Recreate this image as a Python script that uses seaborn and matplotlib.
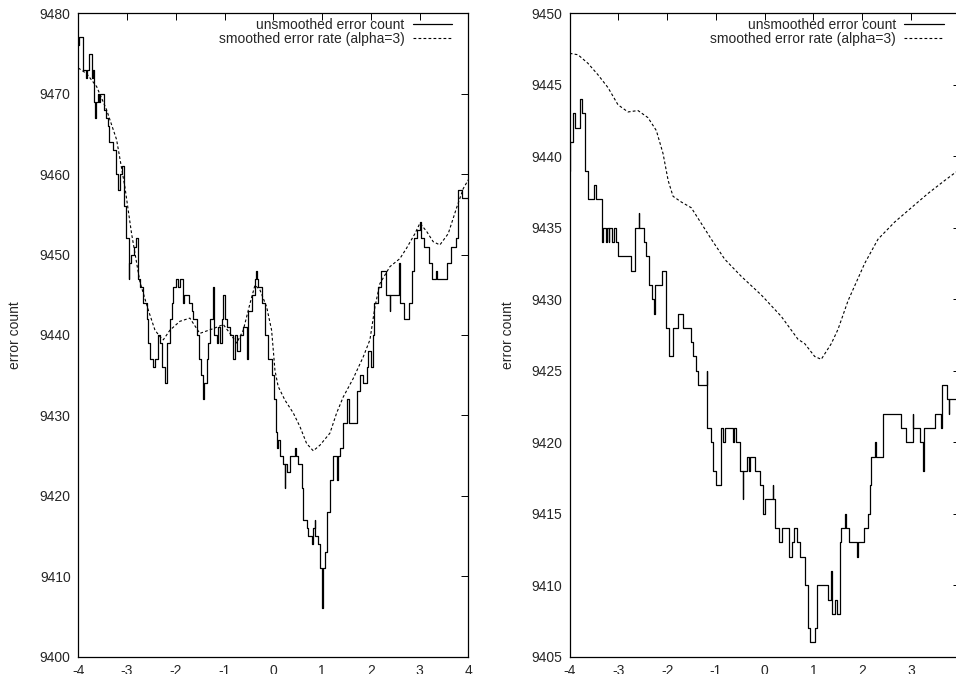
import matplotlib
matplotlib.use("Agg")
import matplotlib.pyplot as plt
import seaborn as sns

# --- Data ---
# left panel: unsmoothed count (step start x, level)
LEFT_STEP_X = [-4.00, -3.99, -3.91, -3.897, -3.85, -3.83, -3.79, -3.726, -3.70, -3.671,
               -3.655, -3.64, -3.60, -3.569, -3.55, -3.466, -3.44, -3.40, -3.363, -3.295,
               -3.227, -3.192, -3.145, -3.104, -3.056, -3.021, -2.967, -2.95, -2.919, -2.851,
               -2.816, -2.77, -2.73, -2.666, -2.598, -2.563, -2.529, -2.475, -2.427, -2.358,
               -2.324, -2.290, -2.222, -2.174, -2.119, -2.085, -2.051, -1.996, -1.948, -1.914,
               -1.859, -1.832, -1.722, -1.675, -1.640, -1.572, -1.517, -1.483, -1.449, -1.422,
               -1.367, -1.333, -1.299, -1.244, -1.216, -1.162, -1.128, -1.093, -1.059, -1.025,
               -0.991, -0.943, -0.888, -0.820, -0.786, -0.752, -0.683, -0.615, -0.546, -0.512,
               -0.444, -0.376, -0.35, -0.335, -0.307, -0.239, -0.170, -0.102, -0.034, 0.02,
               0.054, 0.08, 0.09, 0.136, 0.191, 0.239, 0.245, 0.287, 0.342, 0.444,
               0.47, 0.513, 0.581, 0.615, 0.684, 0.718, 0.786, 0.82, 0.854, 0.865,
               0.923, 0.957, 0.991, 1.0, 1.01, 1.025, 1.059, 1.094, 1.162, 1.23,
               1.315, 1.325, 1.367, 1.435, 1.504, 1.559, 1.709, 1.777, 1.846, 1.914,
               1.948, 1.996, 2.05, 2.066, 2.155, 2.203, 2.306, 2.388, 2.40, 2.58,
               2.593, 2.682, 2.785, 2.853, 2.886, 2.955, 3.003, 3.023, 3.092, 3.194,
               3.249, 3.331, 3.365, 3.57, 3.639, 3.742, 3.797, 3.879, 4.0]
LEFT_STEP_Y = [9476, 9477, 9475, 9473, 9472, 9473, 9475, 9472, 9473, 9469,
               9467, 9469, 9470, 9469, 9470, 9468, 9467, 9466, 9464, 9463,
               9460, 9458, 9460, 9461, 9456, 9452, 9447, 9449, 9450, 9451,
               9452, 9447, 9446, 9444, 9442, 9439, 9437, 9436, 9437, 9440,
               9439, 9436, 9434, 9439, 9442, 9444, 9446, 9447, 9446, 9447,
               9444, 9445, 9444, 9443, 9442, 9440, 9437, 9435, 9432, 9434,
               9437, 9439, 9442, 9446, 9440, 9439, 9441, 9439, 9442, 9445,
               9442, 9441, 9440, 9437, 9440, 9438, 9440, 9441, 9437, 9443,
               9445, 9447, 9448, 9447, 9446, 9444, 9440, 9437, 9435, 9432,
               9428, 9426, 9427, 9425, 9424, 9421, 9424, 9423, 9425, 9426,
               9425, 9424, 9421, 9417, 9416, 9415, 9414, 9416, 9417, 9415,
               9414, 9411, 9410, 9406, 9410, 9411, 9413, 9418, 9422, 9425,
               9422, 9425, 9426, 9429, 9432, 9429, 9433, 9435, 9434, 9436,
               9438, 9436, 9440, 9444, 9446, 9448, 9445, 9443, 9445, 9449,
               9444, 9442, 9444, 9448, 9452, 9453, 9454, 9452, 9451, 9449,
               9447, 9448, 9447, 9449, 9451, 9452, 9458, 9457, 9457]

LEFT_SMOOTH_X = [-4.0, -3.83, -3.625, -3.42, -3.215, -3.044, -2.907, -2.736, -2.564, -2.427,
                 -2.325, -2.257, -2.12, -1.917, -1.712, -1.507, -1.23, -1.025, -0.889, -0.82,
                 -0.752, -0.616, -0.479, -0.376, -0.274, -0.137, -0.035, 0.0, 0.034, 0.10,
                 0.239, 0.41, 0.547, 0.684, 0.82, 0.957, 1.162, 1.299, 1.435, 1.64,
                 1.846, 1.982, 2.085, 2.187, 2.392, 2.597, 2.734, 2.905, 3.007, 3.143,
                 3.28, 3.417, 3.588, 3.759, 3.896, 4.0]
LEFT_SMOOTH_Y = [9473.2, 9472.5, 9470.9, 9468.0, 9464.3, 9458.4, 9452.6, 9446.6, 9443.1, 9440.6,
                 9439.8, 9439.4, 9440.6, 9441.7, 9442.1, 9440.2, 9440.8, 9441.3, 9440.2, 9439.6,
                 9439.0, 9440.6, 9443.9, 9446.2, 9445.6, 9443.5, 9440.6, 9438.1, 9435.6, 9433.6,
                 9431.9, 9430.3, 9428.6, 9426.5, 9425.6, 9426.3, 9427.8, 9430.3, 9432.3, 9434.6,
                 9437.3, 9439.4, 9443.5, 9446.4, 9448.5, 9449.5, 9450.8, 9452.6, 9453.9, 9452.9,
                 9451.6, 9451.2, 9452.6, 9455.8, 9458.2, 9459.3]

# right panel
RIGHT_STEP_X = [-4.00, -3.99, -3.94, -3.89, -3.79, -3.755, -3.68, -3.618, -3.495, -3.46,
                -3.344, -3.335, -3.31, -3.26, -3.245, -3.20, -3.185, -3.13, -3.10, -3.06,
                -3.01, -2.74, -2.67, -2.58, -2.57, -2.47, -2.44, -2.38, -2.31, -2.27,
                -2.26, -2.243, -2.107, -2.025, -1.97, -1.874, -1.785, -1.683, -1.52, -1.47,
                -1.40, -1.37, -1.19, -1.183, -1.108, -1.067, -0.999, -0.903, -0.849, -0.814,
                -0.644, -0.632, -0.595, -0.507, -0.452, -0.445, -0.37, -0.33, -0.30, -0.199,
                -0.096, -0.042, 0.0, 0.163, 0.17, 0.211, 0.30, 0.348, 0.492, 0.553,
                0.601, 0.656, 0.724, 0.827, 0.888, 0.922, 1.025, 1.08, 1.30, 1.367,
                1.375, 1.449, 1.48, 1.538, 1.572, 1.64, 1.674, 1.722, 1.90, 1.91,
                2.037, 2.119, 2.153, 2.187, 2.27, 2.28, 2.427, 2.802, 2.905, 3.042,
                3.05, 3.179, 3.247, 3.268, 3.487, 3.623, 3.637, 3.74, 3.78, 3.79,
                3.95]
RIGHT_STEP_Y = [9439, 9441, 9443, 9442, 9444, 9443, 9439, 9437, 9438, 9437,
                9435, 9434, 9435, 9434, 9435, 9434, 9435, 9434, 9435, 9434,
                9433, 9432, 9435, 9436, 9435, 9434, 9433, 9431, 9430, 9429,
                9430, 9431, 9432, 9428, 9426, 9428, 9429, 9428, 9427, 9426,
                9425, 9424, 9425, 9421, 9420, 9418, 9417, 9421, 9420, 9421,
                9420, 9421, 9420, 9418, 9416, 9418, 9419, 9418, 9419, 9418,
                9417, 9415, 9416, 9417, 9416, 9414, 9413, 9414, 9412, 9413,
                9414, 9413, 9412, 9410, 9407, 9406, 9407, 9410, 9409, 9411,
                9408, 9409, 9408, 9413, 9414, 9415, 9414, 9413, 9412, 9413,
                9414, 9415, 9417, 9419, 9420, 9419, 9422, 9421, 9420, 9422,
                9421, 9420, 9418, 9421, 9422, 9421, 9424, 9423, 9422, 9423,
                9423]

RIGHT_SMOOTH_X = [-4.0, -3.83, -3.625, -3.42, -3.214, -3.009, -2.804, -2.60, -2.394, -2.223,
                  -2.086, -1.98, -1.88, -1.71, -1.506, -1.30, -1.095, -0.82, -0.48, -0.07,
                  0.34, 0.683, 0.82, 1.025, 1.16, 1.367, 1.504, 1.71, 2.05, 2.324,
                  2.666, 3.007, 3.35, 3.69, 3.925]
RIGHT_SMOOTH_Y = [9447.2, 9447.1, 9446.5, 9445.7, 9444.8, 9443.6, 9443.1, 9443.2, 9442.7, 9441.8,
                  9440.2, 9438.3, 9437.2, 9436.8, 9436.4, 9435.3, 9434.2, 9432.8, 9431.6, 9430.3,
                  9428.8, 9427.2, 9426.9, 9426.0, 9425.8, 9426.9, 9427.9, 9429.9, 9432.5, 9434.2,
                  9435.4, 9436.4, 9437.4, 9438.3, 9438.9]

X_TICKS = [-4, -3, -2, -1, 0, 1, 2, 3, 4]
LEFT_Y_TICKS = [9400, 9410, 9420, 9430, 9440, 9450, 9460, 9470, 9480]
RIGHT_Y_TICKS = [9405, 9410, 9415, 9420, 9425, 9430, 9435, 9440, 9445, 9450]

UNSMOOTHED_LABEL = 'unsmoothed error count'
SMOOTHED_LABEL = 'smoothed error rate (alpha=3)'
Y_LABEL = 'error count'

# --- Styling (gnuplot look) ---
sns.set_style('white')
plt.rcParams['font.family'] = ['Liberation Sans', 'DejaVu Sans']
plt.rcParams['font.size'] = 10
plt.rcParams['axes.unicode_minus'] = False


def draw_panel(ax, step_x, step_y, smooth_x, smooth_y, yticks, label_x):
    sns.lineplot(x=step_x, y=step_y, ax=ax, color='black', linewidth=0.9,
                 drawstyle='steps-post', estimator=None, sort=False,
                 label=UNSMOOTHED_LABEL)
    sns.lineplot(x=smooth_x, y=smooth_y, ax=ax, color='black', linewidth=0.8,
                 linestyle=(0, (2.5, 2)), estimator=None, sort=False,
                 label=SMOOTHED_LABEL)
    ax.set_xlim(-4, 4)
    ax.set_ylim(yticks[0], yticks[-1])
    ax.set_xticks(X_TICKS)
    ax.set_yticks(yticks)
    ax.tick_params(direction='in', top=True, right=True, length=5, width=0.7,
                   pad=5.5, labelsize=10, color='black')
    for sp in ax.spines.values():
        sp.set_color('black')
        sp.set_linewidth(0.9)
    ax.set_xlabel('')
    ax.set_ylabel(Y_LABEL, fontsize=10)
    ax.yaxis.set_label_coords(label_x, 0.5)
    ax.legend(loc='upper right', bbox_to_anchor=(1 - 16 / 390, 1 - 5 / 644),
              borderaxespad=0, borderpad=0, frameon=False, markerfirst=False,
              handlelength=2.85, handletextpad=0.6, labelspacing=-0.05,
              fontsize=10)


fig = plt.figure(figsize=(9.56, 6.74), dpi=100)
ax_left = fig.add_axes([78.3 / 956, 17.3 / 674, 390 / 956, 643.4 / 674])
# the right panel runs past the figure edge, as in the reference
ax_right = fig.add_axes([569.7 / 956, 17.3 / 674, 390 / 956, 643.4 / 674])

draw_panel(ax_left, LEFT_STEP_X, LEFT_STEP_Y, LEFT_SMOOTH_X, LEFT_SMOOTH_Y,
           LEFT_Y_TICKS, -0.145)
draw_panel(ax_right, RIGHT_STEP_X, RIGHT_STEP_Y, RIGHT_SMOOTH_X, RIGHT_SMOOTH_Y,
           RIGHT_Y_TICKS, -0.14)

fig.savefig('out.png', dpi=100, facecolor='white')
